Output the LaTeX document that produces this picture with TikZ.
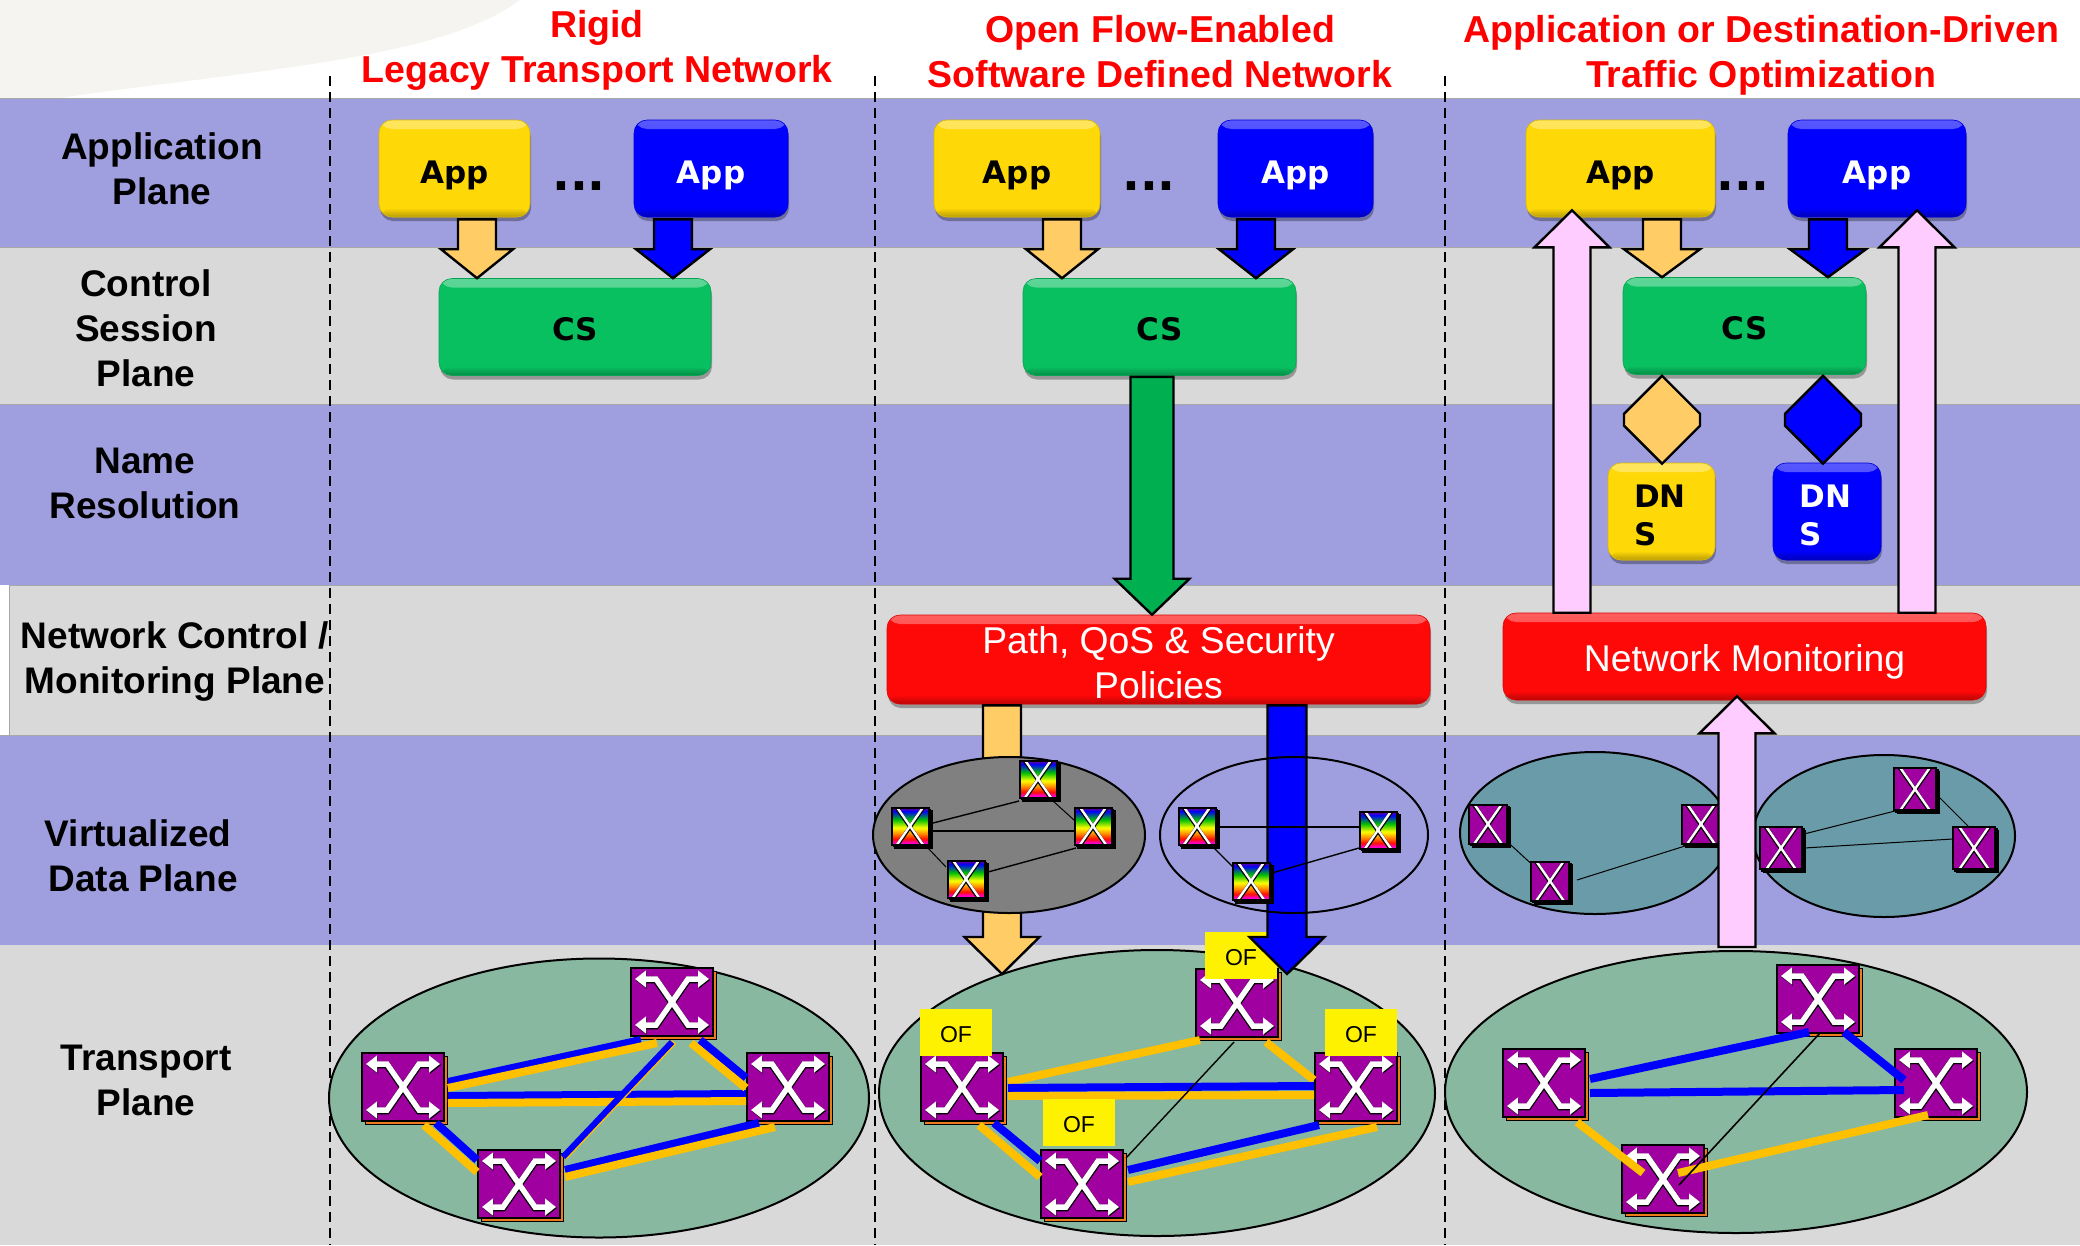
\documentclass[tikz,border=0pt]{standalone}
\usepackage{fontspec}
\setmainfont{Liberation Sans}
\newfontfamily\boxfont{DejaVu Sans}
\usetikzlibrary{calc,shapes.geometric,shadows,arrows.meta}

\definecolor{bandblue}{HTML}{9F9FDF}
\definecolor{bandgray}{HTML}{D9D9D9}
\definecolor{bandline}{HTML}{A8A8A8}
\definecolor{swirl}{HTML}{F5F4F0}
\definecolor{appyellow}{HTML}{FFD808}
\definecolor{appblue}{HTML}{0000FF}
\definecolor{csgreen}{HTML}{08C060}
\definecolor{polred}{HTML}{FF0808}
\definecolor{softorange}{HTML}{FFCC66}
\definecolor{softpink}{HTML}{FFCCFF}
\definecolor{arrowgreen}{HTML}{00B050}
\definecolor{linkorange}{HTML}{FFC000}
\definecolor{swpurple}{HTML}{A000A0}
\definecolor{swedge}{HTML}{EE7A1E}
\definecolor{transgreen}{HTML}{88B8A0}
\definecolor{virtteal}{HTML}{6A9BA8}
\definecolor{virtgray}{HTML}{808080}

\pgfdeclareverticalshading{swrainbow}{100bp}{color(0bp)=(magenta!80!red); color(27.5bp)=(magenta!80!red); color(32.5bp)=(red!90!orange); color(39bp)=(orange); color(47.5bp)=(yellow); color(58.5bp)=(green!75!black); color(70bp)=(blue); color(75bp)=(violet); color(100bp)=(violet)}

\newcommand{\swcross}[4]{%
  \begin{scope}[shift={(path picture bounding box.center)},xscale=#1,yscale=#2,line join=miter,
      >={Triangle[length=#4,width=1.5*#4]}]
    \draw[black,line width=#3+1.4pt,<->] (-36.5,-22) -- (-16,-22) -- (16,24) -- (38,24);
    \draw[black,line width=#3+1.4pt,<->] (38,-22) -- (16,-22) -- (-16,24) -- (-36.5,24);
    \draw[white,line width=#3,<->] (-37,-23) -- (-16,-23) -- (16,23) -- (37,23);
    \draw[white,line width=#3,<->] (37,-23) -- (16,-23) -- (-16,23) -- (-37,23);
  \end{scope}}

\newcommand{\fatarrow}[6]{%
  \coordinate (fa) at #2;
  \coordinate (fb) at #3;
  \coordinate (fh) at ($(fb)!#6!(fa)$);
  \draw[fatline,fill=#1] ($(fa)!#4!90:(fb)$) -- ($(fh)!#4!90:(fb)$) -- ($(fh)!#5!90:(fb)$) -- (fb) -- ($(fh)!#5!-90:(fb)$) -- ($(fh)!#4!-90:(fb)$) -- ($(fa)!#4!-90:(fb)$) -- cycle;}

\newcommand{\fatdiamond}[3]{%
  \coordinate (fa) at #2;
  \coordinate (fb) at #3;
  \coordinate (fc) at ($(fa)!38pt!(fb)$);
  \coordinate (fd) at ($(fb)!38pt!(fa)$);
  \draw[fatline,fill=#1] (fa) -- ($(fc)!38pt!90:(fb)$) -- ($(fd)!38pt!-90:(fa)$) -- (fb) -- ($(fd)!38pt!90:(fa)$) -- ($(fc)!38pt!-90:(fb)$) -- cycle;}

\tikzset{
  fatline/.style={draw=black,line width=2.4pt,line join=miter},
  band/.style={draw=bandline,line width=1pt},
  divider/.style={black,line width=2pt,dash pattern=on 10pt off 6pt},
  titletext/.style={text=red,font=\fontsize{37.5}{45}\selectfont\bfseries,align=center,inner sep=0},
  planelabel/.style={font=\fontsize{37}{45}\selectfont\bfseries,align=center,inner sep=0},
  glossbox/.style={rectangle,rounded corners=13pt,inner sep=0,fill=#1,draw=#1!85!black,line width=.6pt,
    font=\fontsize{31}{38}\selectfont\boxfont\bfseries,align=left,
    drop shadow={shadow xshift=1pt,shadow yshift=-4pt,opacity=.3,fill=black},
    path picture={
      \shade[top color=#1!65!white,bottom color=#1] (path picture bounding box.north west) rectangle ([yshift=-9pt]path picture bounding box.north east);
      \shade[top color=#1,bottom color=#1!72!black] ([yshift=9pt]path picture bounding box.south west) rectangle (path picture bounding box.south east);}},
  appbox/.style={glossbox=#1,minimum height=97pt,text height=29pt,text depth=0pt},
  csbox/.style={appbox=csgreen,text height=26pt},
  dnsbox/.style={appbox=#1,text height=29pt,text depth=38pt,text width=55pt},
  redbox/.style={glossbox=polred,text=white,font=\fontsize{37.3}{45}\selectfont,align=center,text height=29pt,text depth=0pt},
  dotstext/.style={font=\fontsize{47}{47}\selectfont\boxfont\bfseries,inner sep=0,anchor=base},
  plane/.style={ellipse,draw=black,line width=2pt,inner sep=0},
  swbase/.style={rectangle,draw=black,line width=2pt,inner sep=0,
    general shadow={fill=swedge,draw=black,line width=1.5pt,shadow xshift=3.5pt,shadow yshift=-3.5pt}},
  bigswitch/.style={swbase,fill=swpurple,minimum width=82pt,minimum height=68pt,
    path picture={\swcross{1}{1}{5.5pt}{11pt}}},
  vswitch/.style={swbase,fill=swpurple,minimum width=38pt,minimum height=39pt,
    general shadow={fill=swedge,draw=black,line width=1.2pt,shadow xshift=2pt,shadow yshift=-2pt},
    path picture={\swcross{.46}{.6}{2.4pt}{5pt}}},
  rainbowswitch/.style={vswitch,shading=swrainbow,minimum width=37pt,minimum height=37pt},
  ofbox/.style={rectangle,fill=yellow,inner sep=0,minimum width=72pt,minimum height=47pt,font=\fontsize{23}{27}\selectfont,text height=20pt,text depth=0pt},
  bluelink/.style={appblue,line width=8pt},
  orangelink/.style={linkorange,line width=8pt},
  thinlink/.style={black,line width=1.4pt}
}

\begin{document}
\begin{tikzpicture}[x=1pt,y=-1pt]
\useasboundingbox (0,0) rectangle (2080,1245);

% rows
\fill[swirl] (0,0) -- (520,0) .. controls (440,60) and (250,70) .. (60,98) -- (0,98) -- cycle;
\draw[band,fill=bandblue] (-2,98) rectangle (2082,247);
\draw[band,fill=bandgray] (-2,247) rectangle (2082,404);
\draw[band,fill=bandblue] (-2,404) rectangle (2082,585);
\fill[white] (0,585) rectangle (9,735);
\draw[band,fill=bandgray] (9,585) rectangle (2082,735);
\draw[band,fill=bandblue] (-2,735) rectangle (2082,945);
\fill[bandgray] (0,945) rectangle (2080,1245);

% columns
\draw[divider] (330,76) -- (330,1245);
\draw[divider] (875,76) -- (875,1245);
\draw[divider] (1445,76) -- (1445,1245);

% headings
\node[titletext] (title1) at (597,50) {Rigid\\Legacy Transport Network};
\node[titletext] (title2) at (1160,52) {Open Flow-Enabled\\Software Defined Network};
\node[titletext] (title3) at (1761,55) {Application or Destination-Driven\\Traffic Optimization};

\node[planelabel] (lab1) at (162,169) {Application\\Plane};
\node[planelabel] (lab2) at (146,328) {Control\\Session\\Plane};
\node[planelabel] (lab3) at (145,483) {Name\\Resolution};
\node[planelabel] (lab4) at (175,662) {Network Control /\\Monitoring Plane};
\node[planelabel] (lab5) at (138,856) {Virtualized\\\ Data Plane};
\node[planelabel] (lab6) at (146,1080) {Transport\\Plane};

% rigid column
\node[appbox=appyellow,minimum width=151pt] (app1y) at (454.5,168.5) {App};
\node[appbox=appblue,text=white,minimum width=154pt] (app1b) at (711,168.5) {App};
\node[dotstext] (dots1) at (579,190) {...};
\node[csbox,minimum width=272pt] (cs1) at (575,327) {CS};
\fatarrow{softorange}{([shift={(22.5,2)}]app1y.south)}{([shift={(-98,0)}]cs1.north)}{19pt}{36pt}{29pt}
\fatarrow{appblue}{([shift={(-38,2)}]app1b.south)}{([shift={(98,0)}]cs1.north)}{19pt}{37pt}{29pt}

\node[plane,fill=transgreen,minimum width=540pt,minimum height=279pt] (tr1) at (599,1098) {};
\node[bigswitch] (sw1l) at (403,1087) {};
\node[bigswitch] (sw1t) at (672,1002) {};
\node[bigswitch] (sw1r) at (788,1087) {};
\node[bigswitch] (sw1b) at (519,1184) {};
\draw[bluelink] ([shift={(45,-5)}]sw1l.center) -- ([shift={(-31,38)}]sw1t.center);
\draw[orangelink] ([shift={(45,1)}]sw1l.center) -- ([shift={(-15,41)}]sw1t.center);
\draw[bluelink] ([shift={(45,9)}]sw1l.center) -- ([shift={(-42,7)}]sw1r.center);
\draw[orangelink] ([shift={(45,16)}]sw1l.center) -- ([shift={(-42,14)}]sw1r.center);
\draw[bluelink] ([shift={(28,38)}]sw1t.center) -- ([shift={(-42,-9)}]sw1r.center);
\draw[orangelink] ([shift={(19,41)}]sw1t.center) -- ([shift={(-42,1)}]sw1r.center);
\draw[orangelink] ([shift={(21,38)}]sw1l.center) -- ([shift={(-42,-12)}]sw1b.center);
\draw[bluelink] ([shift={(33,36)}]sw1l.center) -- ([shift={(-42,-24)}]sw1b.center);
\draw[bluelink] ([shift={(46,-14)}]sw1b.center) -- ([shift={(-29,36)}]sw1r.center);
\draw[orangelink] ([shift={(46,-7)}]sw1b.center) -- ([shift={(-13,40)}]sw1r.center);
\draw[linkorange,line width=6pt] ([shift={(2,40)}]sw1t.center) -- ([shift={(46,-27)}]sw1b.center);
\draw[appblue,line width=6pt] ([shift={(0,40)}]sw1t.center) -- ([shift={(44,-27)}]sw1b.center);

% openflow column
\node[appbox=appyellow,minimum width=166pt] (app2y) at (1017,168.5) {App};
\node[appbox=appblue,text=white,minimum width=155pt] (app2b) at (1295.5,168.5) {App};
\node[dotstext] (dots2) at (1149,190) {...};
\node[csbox,minimum width=273pt] (cs2) at (1159.5,327) {CS};
\fatarrow{softorange}{([shift={(45,2)}]app2y.south)}{([shift={(-97.5,0)}]cs2.north)}{19pt}{36pt}{29pt}
\fatarrow{appblue}{([shift={(-39.5,2)}]app2b.south)}{([shift={(96.5,0)}]cs2.north)}{19pt}{37pt}{29pt}
\node[redbox,text height=77pt,minimum width=543pt,minimum height=89pt] (pol2) at (1158.5,659.5) {Path, QoS \& Security\\Policies};
\fatarrow{arrowgreen}{([shift={(-7.5,1)}]cs2.south)}{([shift={(-6.5,0)}]pol2.north)}{21.5pt}{37.5pt}{36pt}

\node[plane,fill=transgreen,minimum width=556pt,minimum height=286pt] (tr2) at (1157,1093) {};
\node[bigswitch] (sw2l) at (962,1087) {};
\node[bigswitch] (sw2t) at (1237,1003) {};
\node[bigswitch] (sw2r) at (1356,1087) {};
\node[bigswitch] (sw2b) at (1082,1184) {};
\draw[orangelink] ([shift={(46,-5)}]sw2l.center) -- ([shift={(-37,37)}]sw2t.center);
\draw[orangelink] ([shift={(29,39)}]sw2t.center) -- ([shift={(-42,-7)}]sw2r.center);
\draw[bluelink] ([shift={(46,1)}]sw2l.center) -- ([shift={(-42,-1)}]sw2r.center);
\draw[orangelink] ([shift={(46,9)}]sw2l.center) -- ([shift={(-42,8)}]sw2r.center);
\draw[orangelink] ([shift={(17,38)}]sw2l.center) -- ([shift={(-42,-7)}]sw2b.center);
\draw[bluelink] ([shift={(32,36)}]sw2l.center) -- ([shift={(-42,-23)}]sw2b.center);
\draw[bluelink] ([shift={(46,-14)}]sw2b.center) -- ([shift={(-37,38)}]sw2r.center);
\draw[orangelink] ([shift={(46,-2)}]sw2b.center) -- ([shift={(21,40)}]sw2r.center);
\draw[thinlink] ([shift={(-3,39)}]sw2t.center) -- ([shift={(44,-26)}]sw2b.center);
\node[ofbox] (of2l) at (956,1032) {OF};
\node[ofbox] (of2t) at (1241,955) {OF};
\node[ofbox] (of2r) at (1361,1032) {OF};
\node[ofbox] (of2b) at (1079,1122) {OF};

\fatarrow{softorange}{([shift={(-156.5,1)}]pol2.south)}{([shift={(-155,-119)}]tr2.center)}{19pt}{37.5pt}{37pt}
\fatarrow{appblue}{([shift={(128.5,1)}]pol2.south)}{([shift={(130,-119)}]tr2.center)}{19.5pt}{37.5pt}{37pt}
\node[plane,fill=virtgray,minimum width=272pt,minimum height=156pt] (vn2a) at (1009,835) {};
\node[plane,minimum width=268pt,minimum height=156pt] (vn2b) at (1294,835) {};
\node[rainbowswitch] (va1) at (910,826) {};
\node[rainbowswitch] (va2) at (1038,779) {};
\node[rainbowswitch] (va3) at (1093,826) {};
\node[rainbowswitch] (va4) at (966,879) {};
\draw[thinlink] ([shift={(23,-3)}]va1.center) -- ([shift={(-19,22)}]va2.center);
\draw[thinlink] ([shift={(23,5)}]va1.center) -- ([shift={(-19,5)}]va3.center);
\draw[thinlink,line width=1pt] ([shift={(15,22)}]va2.center) -- ([shift={(-19,-6)}]va3.center);
\draw[thinlink,line width=1pt] ([shift={(17,21)}]va1.center) -- ([shift={(-20,-12)}]va4.center);
\draw[thinlink] ([shift={(22,-7)}]va4.center) -- ([shift={(-17,22)}]va3.center);
\node[rainbowswitch] (vb1) at (1197,826) {};
\node[rainbowswitch] (vb2) at (1378,830) {};
\node[rainbowswitch] (vb3) at (1251,881) {};
\draw[thinlink] ([shift={(21,1)}]vb1.center) -- ([shift={(-19,-3)}]vb2.center);
\draw[thinlink] ([shift={(17,22)}]vb1.center) -- ([shift={(-18,-14)}]vb3.center);
\draw[thinlink] ([shift={(21,-8)}]vb3.center) -- ([shift={(-19,18)}]vb2.center);

% destination column
\node[appbox=appyellow,minimum width=189pt] (app3y) at (1620.5,168.5) {App};
\node[appbox=appblue,text=white,minimum width=178pt] (app3b) at (1877,168.5) {App};
\node[dotstext] (dots3) at (1743,190) {...};
\node[csbox,minimum width=243pt] (cs3) at (1744.5,326) {CS};
\fatarrow{softorange}{([shift={(41.5,2)}]app3y.south)}{([shift={(-82.5,0)}]cs3.north)}{19pt}{38pt}{28pt}
\fatarrow{appblue}{([shift={(-49,2)}]app3b.south)}{([shift={(83.5,0)}]cs3.north)}{19pt}{38pt}{28pt}
\node[dnsbox=appyellow,minimum width=107pt] (dns3y) at (1661.5,511.5) {DN\\S};
\node[dnsbox=appblue,text=white,minimum width=108pt] (dns3b) at (1827,511.5) {DN\\S};
\fatdiamond{softorange}{([shift={(-82.5,1)}]cs3.south)}{([shift={(0.5,1)}]dns3y.north)}
\fatdiamond{appblue}{([shift={(78.5,1)}]cs3.south)}{([shift={(-4,1)}]dns3b.north)}
\node[redbox,minimum width=483pt,minimum height=87pt] (mon3) at (1744.5,656.5) {Network Monitoring};
\fatarrow{softpink}{([shift={(-172.5,0)}]mon3.north)}{([shift={(-48.5,-7)}]app3y.south)}{18.5pt}{37.5pt}{37pt}
\fatarrow{softpink}{([shift={(172.5,0)}]mon3.north)}{([shift={(40,-7)}]app3b.south)}{18.5pt}{37.5pt}{37pt}

\node[plane,fill=transgreen,minimum width=582pt,minimum height=282pt] (tr3) at (1736,1092) {};
\node[bigswitch] (sw3l) at (1544,1083) {};
\node[bigswitch] (sw3t) at (1818,999) {};
\node[bigswitch] (sw3r) at (1936,1083) {};
\node[bigswitch] (sw3b) at (1663,1179) {};
\draw[bluelink] ([shift={(46,-4)}]sw3l.center) -- ([shift={(-9,33)}]sw3t.center);
\draw[bluelink] ([shift={(26,33)}]sw3t.center) -- ([shift={(-32,-3)}]sw3r.center);
\draw[bluelink] ([shift={(46,10)}]sw3l.center) -- ([shift={(-32,7)}]sw3r.center);
\draw[orangelink] ([shift={(33,39)}]sw3l.center) -- ([shift={(-20,-6)}]sw3b.center);
\draw[orangelink] ([shift={(15,-6)}]sw3b.center) -- ([shift={(-8,32)}]sw3r.center);
\draw[thinlink,line width=1.6pt] ([shift={(2,34)}]sw3t.center) -- ([shift={(16,6)}]sw3b.center);

\node[plane,fill=virtteal,minimum width=270pt,minimum height=162pt] (vn3a) at (1595,833) {};
\node[plane,fill=virtteal,minimum width=262pt,minimum height=162pt] (vn3b) at (1884,836) {};
\node[vswitch] (vc1) at (1488,824) {};
\node[vswitch] (vc2) at (1701,824) {};
\node[vswitch] (vc3) at (1550,881) {};
\draw[thinlink,line width=1pt] (vc1) -- (vc3);
\draw[thinlink,line width=1pt] ([shift={(27,-1)}]vc3.center) -- ([shift={(-16,22)}]vc2.center);
\node[vswitch,minimum width=42pt,minimum height=42pt] (vd1) at (1781,848) {};
\node[vswitch,minimum width=42pt,minimum height=42pt] (vd2) at (1915,789) {};
\node[vswitch,minimum width=42pt,minimum height=42pt] (vd3) at (1974,848) {};
\draw[thinlink,line width=1pt] ([shift={(23,-14)}]vd1.center) -- ([shift={(-20,22)}]vd2.center);
\draw[thinlink,line width=1pt] ([shift={(23,0)}]vd1.center) -- ([shift={(-21,-9)}]vd3.center);
\draw[thinlink,line width=1pt] ([shift={(24,8)}]vd2.center) -- ([shift={(-5,-21)}]vd3.center);
\fatarrow{softpink}{([shift={(1,-145)}]tr3.center)}{([shift={(-7.5,-4)}]mon3.south)}{18.5pt}{37.5pt}{37pt}
\end{tikzpicture}
\end{document}
